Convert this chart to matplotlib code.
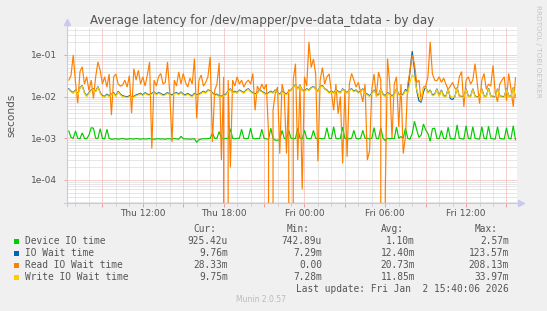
import numpy as np
import matplotlib
matplotlib.use("Agg")
import matplotlib.pyplot as plt
from matplotlib.ticker import FixedLocator, LogLocator, NullFormatter, FixedFormatter
from matplotlib.patches import Rectangle

# ---------------- data (milliseconds, 10-minute samples from Thu 06:30) ----------------
start_hour = 6.5          # Thu 06:30 (hours since Thu 00:00)
step_hours = 1.0 / 6.0    # 10 minutes

device_io_ms = [
    1.5, 1.05, 1.0, 1.5, 1.0, 0.98, 1.35, 1.0, 0.97, 1.2,
    1.8, 1.75, 1.0, 1.0, 1.7, 1.0, 0.97, 1.65, 1.0, 0.95,
    0.96, 0.98, 0.95, 0.97, 0.99, 0.96, 0.95, 0.98, 0.97, 0.96,
    0.99, 0.97, 0.95, 0.98, 0.96, 0.97, 0.99, 0.96, 0.95, 0.97,
    0.98, 0.96, 0.97, 0.95, 0.98, 0.97, 0.96, 0.99, 0.97, 0.95,
    1.12, 0.98, 0.96, 0.97, 0.95, 0.96, 0.98, 0.8, 0.93, 0.96,
    0.98, 0.97, 0.99, 1.0, 1.35, 1.0, 1.0, 1.45, 1.0, 0.97,
    1.0, 0.98, 1.7, 1.0, 0.97, 1.0, 1.0, 1.65, 1.0, 0.98,
    1.0, 1.75, 1.0, 0.97, 1.0, 0.98, 1.65, 1.0, 0.97, 0.95,
    1.75, 1.0, 0.9, 0.9, 0.92, 1.55, 1.0, 0.97, 1.55, 1.0,
    0.98, 1.0, 1.75, 1.0, 0.97, 1.55, 1.0, 0.98, 1.0, 1.55,
    1.0, 0.98, 1.0, 0.97, 1.0, 1.8, 1.0, 0.98, 1.9, 1.0,
    0.97, 1.0, 1.85, 1.0, 0.97, 0.98, 1.0, 1.55, 1.0, 0.97,
    1.0, 1.55, 1.0, 1.0, 0.97, 1.0, 1.8, 1.0, 0.98, 1.8,
    1.0, 0.88, 1.0, 0.98, 1.0, 0.98, 1.85, 1.0, 1.1, 1.0,
    1.75, 1.0, 0.95, 1.3, 2.57, 1.6, 1.05, 1.2, 2.2, 1.6,
    1.3, 0.85, 1.7, 1.75, 1.0, 0.97, 1.55, 1.0, 0.97, 1.85,
    1.0, 0.97, 0.97, 2.1, 1.0, 0.97, 0.96, 2.0, 1.0, 0.97,
    1.9, 1.0, 0.97, 0.96, 1.9, 1.0, 0.97, 1.95, 1.0, 0.97,
    0.96, 1.9, 1.0, 0.97, 0.96, 1.8, 1.0, 0.97, 2.0, 0.925,
]

io_wait_ms = [
    15.5, 13.5, 12.5, 14.5, 11.5, 16.5, 18.5, 12.5, 10.5, 12.5,
    14.5, 15.5, 13.5, 17.5, 12.5, 10.5, 10.2, 11.5, 10.5, 11.5,
    12.5, 10.5, 13.5, 11.5, 10.5, 10.2, 9.9, 10.5, 9.6, 10.2,
    11, 11.5, 12, 11, 12.5, 11.5, 11.2, 12, 13, 11.5,
    12.5, 12, 11, 11.5, 12.5, 11.5, 11, 12, 12.5, 11.5,
    13, 11.5, 11, 12, 11, 10.5, 12, 11, 11.5, 12.5,
    13.5, 12.5, 14.5, 14, 12.5, 11, 11.5, 10.5, 10.2, 11,
    11.5, 13.5, 15.5, 12.5, 13.5, 12.5, 14.5, 13.5, 12.5, 14.5,
    15.5, 13.5, 12.5, 11.5, 12.5, 14.5, 13.5, 12.5, 11.5, 12.5,
    13.5, 12.5, 14.5, 12.5, 11.5, 13.5, 12.5, 11.5, 13.5, 14.5,
    16.5, 19.5, 15.5, 18.5, 14.5, 13.5, 15.5, 14.5, 16.5, 17.5,
    15.5, 13.5, 17.5, 18.5, 15.5, 14.5, 12.5, 13.5, 12.5, 14.5,
    13.5, 12.5, 15.5, 13.5, 12.5, 14.5, 15.5, 13.5, 14.5, 12.5,
    13.5, 15.5, 12.5, 11.5, 10.5, 12, 14.5, 11.5, 11, 15.5,
    11.5, 10.5, 12.5, 11.5, 10.5, 11.5, 15.5, 11.5, 11, 11.5,
    15, 13, 40, 123.57, 45, 14, 8, 7.29, 13, 17.5,
    12.5, 14.5, 11, 11.5, 15.5, 10.5, 14.5, 10.5, 10.2, 15.5,
    9, 8.5, 10, 16.5, 10.3, 10.2, 9.9, 15.5, 10.3, 10.2,
    15.5, 10.3, 10, 10.2, 15.5, 10.3, 10.2, 16, 10.3, 10.2,
    10, 15.5, 10.3, 10.2, 10, 15.5, 10.3, 10.2, 16.5, 9.76,
]

read_wait_ms = [
    25, 32, 100, 22, 7, 40, 52, 20, 30, 14,
    25, 9, 30, 68, 43, 20, 30, 17, 35, 3.6,
    30, 35, 20, 18, 19, 25, 17, 32, 4, 47,
    25, 43, 20, 30, 18, 33, 68, 0.57, 25, 18,
    30, 36, 20, 22, 68, 12, 0.82, 25, 18, 39,
    20, 36, 22, 17, 28, 20, 82, 3, 25, 33,
    18, 22, 30, 90, 0.82, 14, 20, 65, 0.3, 30,
    0, 25, 0.2, 25, 18, 30, 20, 25, 17, 22,
    25, 20, 36, 4.7, 18, 14, 20, 15, 20, 1.3,
    0, 4.7, 12, 17, 0.43, 20, 12, 0.43, 15, 0,
    25, 62, 0.3, 20, 0.06, 30, 18, 205, 50, 80,
    35, 0.28, 25, 50, 20, 30, 35, 13, 4.7, 20,
    3.9, 10, 0.25, 15, 0.36, 20, 36, 25, 17, 22,
    13, 7.5, 20, 0.3, 0.5, 15, 35, 10, 39, 25,
    0, 0.05, 82, 20, 1.0, 20, 30, 1.9, 20, 0.43,
    1.1, 20, 40, 100, 60, 22, 25, 7.5, 17, 18,
    30, 208.13, 35, 25, 24, 30, 22, 28, 20, 15,
    18, 22, 16, 14, 30, 40, 5.7, 25, 30, 20,
    25, 62, 20, 6.8, 25, 36, 15, 20, 18, 56,
    12, 7.5, 20, 25, 30, 8, 36, 15, 5.7, 28.33,
]

write_wait_ms = [
    15, 13, 12, 14, 11, 16, 18, 12, 10, 12,
    14, 15, 13, 17, 12, 10, 9.8, 11, 10, 11,
    12, 10, 13, 11, 10, 9.8, 9.5, 10, 9.2, 9.8,
    10.5, 11, 11.5, 10.5, 12, 11, 10.8, 11.5, 12.5, 11,
    12, 11.5, 10.5, 11, 12, 11, 10.5, 11.5, 12, 11,
    12.5, 11, 10.5, 11.5, 10.5, 10, 11.5, 10.5, 11, 12,
    13, 12, 14, 13.5, 12, 10.5, 11, 10, 9.8, 10.5,
    11, 13, 15, 12, 13, 12, 14, 13, 12, 14,
    15, 13, 12, 11, 12, 14, 13, 12, 11, 12,
    13, 12, 14, 12, 11, 13, 12, 11, 13, 14,
    16, 19, 15, 18, 14, 13, 15, 14, 16, 17,
    15, 13, 17, 18, 15, 14, 12, 13, 12, 14,
    13, 12, 15, 13, 12, 14, 15, 13, 14, 12,
    13, 15, 12, 11, 10, 11.5, 14, 11, 10.5, 15,
    11, 10, 12, 11, 10, 11, 15, 11, 10.5, 11,
    14, 12, 22, 33.97, 28, 15, 10, 9, 16, 17,
    12, 14, 10.5, 11, 15, 10, 14, 10, 9.8, 15,
    10, 9.8, 9.7, 16, 10, 9.8, 9.5, 15, 10, 9.8,
    15, 10, 9.7, 9.8, 15, 10, 9.8, 15.5, 10, 9.8,
    9.7, 15, 10, 9.8, 9.7, 15, 10, 9.8, 16, 9.75,
]

series_names = ["Device IO time", "IO Wait time", "Read IO Wait time", "Write IO Wait time"]
series_colors = ["#00CC00", "#0066B3", "#FF8000", "#FFCC00"]
stat_cur = ["925.42u", "9.76m", "28.33m", "9.75m"]
stat_min = ["742.89u", "7.29m", "0.00", "7.28m"]
stat_avg = ["1.10m", "12.40m", "20.73m", "11.85m"]
stat_max = ["2.57m", "123.57m", "208.13m", "33.97m"]

x_tick_hours = [12, 18, 24, 30, 36]
x_tick_labels = ["Thu 12:00", "Thu 18:00", "Fri 00:00", "Fri 06:00", "Fri 12:00"]
y_tick_values = [1e-4, 1e-3, 1e-2, 1e-1]
y_tick_labels = ["1e-04", "1e-03", "1e-02", "1e-01"]

title = "Average latency for /dev/mapper/pve-data_tdata - by day"
last_update = "Last update: Fri Jan  2 15:40:06 2026"

# ---------------- figure ----------------
W, H = 547, 311
fig = plt.figure(figsize=(W / 100, H / 100), dpi=100)
fig.patch.set_facecolor("#F0F0F0")

def fx(px):
    return px / W

def fy(py):
    return 1 - py / H

L, R, T, B = 67, 517, 27, 203
ax = fig.add_axes([fx(L), fy(B), fx(R) - fx(L), fy(T) - fy(B)])
ax.set_facecolor("white")

all_series = [device_io_ms, io_wait_ms, read_wait_ms, write_wait_ms]
n = len(device_io_ms)
assert all(len(s) == n for s in all_series), [len(s) for s in all_series]
t = start_hour + np.arange(n) * step_hours

ax.set_yscale("log", nonpositive="clip")
for vals, col in zip(all_series, series_colors):
    ax.plot(t, np.asarray(vals) * 1e-3, color=col, lw=0.85, zorder=3,
            solid_joinstyle="miter")

ax.set_xlim(6.37, 39.78)
ax.set_ylim(2.8e-5, 0.47)

# grid
ax.xaxis.set_major_locator(FixedLocator(np.arange(9, 40, 3)))
ax.xaxis.set_minor_locator(FixedLocator(np.arange(7, 40, 1)))
major_lbls = [x_tick_labels[x_tick_hours.index(h)] if h in x_tick_hours else "" for h in np.arange(9, 40, 3)]
ax.xaxis.set_major_formatter(FixedFormatter(major_lbls))
ax.xaxis.set_minor_formatter(NullFormatter())
ax.yaxis.set_major_locator(FixedLocator(y_tick_values))
ax.yaxis.set_major_formatter(FixedFormatter(y_tick_labels))
ax.yaxis.set_minor_locator(LogLocator(base=10, subs=np.arange(2, 10)))
ax.yaxis.set_minor_formatter(NullFormatter())

ax.set_axisbelow(True)
ax.grid(which="minor", color="#CFCFCF", lw=0.72, ls=(0, (1, 1)))
ax.grid(which="major", color="#F0A0A0", lw=0.72, ls=(0, (1, 1)))

for s in ax.spines.values():
    s.set_visible(False)

ax.tick_params(axis="x", which="major", length=3, width=0.72, color="#F0A0A0",
               direction="out", pad=1.5, labelsize=6.5, labelcolor="#555555")
ax.tick_params(axis="x", which="minor", length=2, width=0.72, color="#CFCFCF", direction="out")
ax.tick_params(axis="y", which="major", length=2, width=0.72, color="#F0A0A0",
               direction="out", pad=5.5, labelsize=6.5, labelcolor="#555555")
ax.tick_params(axis="y", which="minor", length=0)

# axes lines + arrows
axis_col = "#C8C8F0"
ax.plot([0, 0], [-0.015, 1.02], transform=ax.transAxes, color=axis_col, lw=0.8, clip_on=False, zorder=4)
ax.plot([-0.006, 1.0075], [0, 0], transform=ax.transAxes, color=axis_col, lw=0.8, clip_on=False, zorder=4)
ax.plot([0], [1.03], transform=ax.transAxes, marker="^", ms=4, color=axis_col, clip_on=False, zorder=4)
ax.plot([1.009], [0], transform=ax.transAxes, marker=">", ms=4, color=axis_col, clip_on=False, zorder=4)

# texts
fig.text(fx(261.7), fy(24), title, ha="center", va="baseline", fontsize=8.6,
         color="#555555", family="DejaVu Sans")
fig.text(fx(11), fy(115), "seconds", rotation=90, ha="center", va="center",
         fontsize=7.6, color="#555555", family="DejaVu Sans")
fig.text(fx(538), fy(5), "RRDTOOL / TOBI OETIKER", rotation=270, ha="center", va="top",
         fontsize=5.2, color="#C4C4C4", family="DejaVu Sans")

mono = dict(family="DejaVu Sans Mono", fontsize=6.85, color="#555555", va="baseline")
hdr_y = 231.5
for lbl, xr in zip(["Cur:", "Min:", "Avg:", "Max:"], [216, 310, 404, 498]):
    fig.text(fx(xr), fy(hdr_y), lbl, ha="right", **mono)

for k, name in enumerate(series_names):
    yb = 243.5 + 12 * k
    fig.patches.append(Rectangle((fx(13.5), fy(yb)), 5 / W, 5 / H, transform=fig.transFigure,
                                 facecolor=series_colors[k], edgecolor="none"))
    fig.text(fx(25), fy(yb), name, ha="left", **mono)
    for col, xr in zip([stat_cur, stat_min, stat_avg, stat_max], [228, 322, 415, 509]):
        fig.text(fx(xr), fy(yb), col[k], ha="right", **mono)

fig.text(fx(509), fy(291.5), last_update, ha="right", **mono)
fig.text(fx(261), fy(302.5), "Munin 2.0.57", ha="center", va="baseline", fontsize=5.5,
         color="#BBBBBB", family="DejaVu Sans")

fig.savefig("out.png", dpi=100, facecolor=fig.get_facecolor())
